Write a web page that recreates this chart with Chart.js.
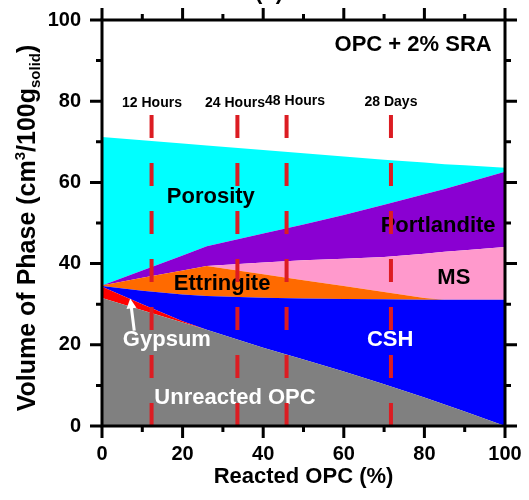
<!DOCTYPE html>
<html><head><meta charset="utf-8">
<script src="https://cdn.jsdelivr.net/npm/chart.js@4.4.0/dist/chart.umd.min.js"></script>
<style>html,body{margin:0;padding:0;background:#fff;overflow:hidden}#wrap{width:529px;height:500px;position:relative}</style>
</head><body><div id="wrap"><canvas id="c"></canvas></div>
<script>
// ---- data ----
const reactedOPC     = [0, 10, 20, 26, 40, 50, 60, 70, 80, 85, 90, 100];
const unreactedTop   = [31.5, 28.5, 25.5, 23.7, 19.3, 16.4, 13.4, 10.3, 7.0, 5.3, 3.6, 0];
const gypsumTop      = [34.3, 30.0, 25.8, 23.7, 19.3, 16.4, 13.4, 10.3, 7.0, 5.3, 3.6, 0];
const cshTop         = [34.5, 33.3, 32.4, 32.0, 31.6, 31.4, 31.3, 31.2, 31.1, 31.1, 31.1, 31.1];
const ettringiteTop  = [34.6, 36.5, 38.3, 39.4, 37.4, 35.9, 34.5, 33.0, 31.5, 31.1, 31.1, 31.1];
const msTop          = [34.6, 36.5, 38.3, 39.4, 40.3, 40.8, 41.2, 41.6, 42.4, 42.9, 43.3, 44.1];
const portlanditeTop = [34.6, 38.3, 42.0, 44.3, 47.4, 49.6, 52.0, 54.5, 57.1, 58.4, 59.8, 62.6];
const porosityTop    = [71.2, 70.4, 69.6, 69.1, 68.0, 67.2, 66.4, 65.6, 64.9, 64.5, 64.2, 63.6];
const phaseNames     = ['Unreacted OPC', 'Gypsum', 'CSH', 'Ettringite', 'MS', 'Portlandite', 'Porosity'];
const ageMarks       = [12.3, 33.6, 45.8, 71.7];
const ageLabels      = ['12 Hours', '24 Hours', '48 Hours', '28 Days'];
const ageMarkTop     = 76.6;
const xTickValues    = [0, 20, 40, 60, 80, 100];
const yTickValues    = [0, 20, 40, 60, 80, 100];

// ---- styles ----
const FONT = "'Liberation Sans', Arial, sans-serif";
const phaseTops   = [unreactedTop, gypsumTop, cshTop, ettringiteTop, msTop, portlanditeTop, porosityTop];
const phaseColors = ['#808080', '#FF0000', '#0000FF', '#FF6A00', '#FF99CC', '#8A00D2', '#00FFFF'];

const datasets = phaseTops.map((top, i) => ({
  label: phaseNames[i],
  data: reactedOPC.map((x, j) => ({x: x, y: top[j]})),
  fill: i === 0 ? 'origin' : '-1',
  backgroundColor: phaseColors[i],
  borderColor: 'rgba(0,0,0,0)',
  borderWidth: 0,
  pointRadius: 0,
  tension: 0,
  order: 1
}));
ageMarks.forEach((m, i) => datasets.push({
  label: ageLabels[i],
  data: [{x: m, y: ageMarkTop}, {x: m, y: 0}],
  fill: false,
  borderColor: '#DC1C22',
  borderWidth: 4,
  borderDash: [23, 25],
  borderCapStyle: 'butt',
  pointRadius: 0,
  order: -1
}));

// annotation placement (data coordinates)
const regionLabels = [
  {text: 'Porosity', x: 27, y: 56.4, color: '#000'},
  {text: 'Portlandite', x: 83.4, y: 49.3, color: '#000'},
  {text: 'MS', x: 87.3, y: 36.5, color: '#000'},
  {text: 'Ettringite', x: 29.8, y: 35.0, color: '#000'},
  {text: 'Gypsum', x: 16.1, y: 21.2, color: '#fff'},
  {text: 'CSH', x: 71.5, y: 21.2, color: '#fff'},
  {text: 'Unreacted OPC', x: 33, y: 6.9, color: '#fff'},
  {text: 'OPC + 2% SRA', x: 77.2, y: 93.8, color: '#000'}
];
const ageLabelPos = [{x: 12.4, y: 79.6}, {x: 33, y: 79.6}, {x: 47.9, y: 80.0}, {x: 71.7, y: 79.8}];
const gypsumArrow = {from: {x: 8.0, y: 23.5}, to: {x: 7.0, y: 31.4}};

let labelsDrawn = false;
const labelPlugin = {
  id: 'labels',
  beforeDraw() { labelsDrawn = false; },
  beforeDatasetDraw(chart, args) {
    if (labelsDrawn || args.index < phaseTops.length) return;
    labelsDrawn = true;
    const ctx = chart.ctx, xs = chart.scales.x, ys = chart.scales.y;
    ctx.save();
    ctx.textAlign = 'center';
    ctx.textBaseline = 'middle';
    ctx.font = 'bold 22px ' + FONT;
    regionLabels.forEach(l => {
      ctx.fillStyle = l.color;
      ctx.fillText(l.text, xs.getPixelForValue(l.x), ys.getPixelForValue(l.y));
    });
    ctx.font = 'bold 14px ' + FONT;
    ctx.fillStyle = '#000';
    ageLabels.forEach((t, i) => {
      ctx.fillText(t, xs.getPixelForValue(ageLabelPos[i].x), ys.getPixelForValue(ageLabelPos[i].y));
    });
    const x1 = xs.getPixelForValue(gypsumArrow.from.x), y1 = ys.getPixelForValue(gypsumArrow.from.y);
    const x2 = xs.getPixelForValue(gypsumArrow.to.x), y2 = ys.getPixelForValue(gypsumArrow.to.y);
    const ang = Math.atan2(y2 - y1, x2 - x1);
    const hl = 10, hw = 5;
    ctx.strokeStyle = '#fff'; ctx.fillStyle = '#fff'; ctx.lineWidth = 3;
    ctx.beginPath(); ctx.moveTo(x1, y1);
    ctx.lineTo(x2 - Math.cos(ang) * hl * 0.8, y2 - Math.sin(ang) * hl * 0.8); ctx.stroke();
    ctx.beginPath(); ctx.moveTo(x2, y2);
    ctx.lineTo(x2 - Math.cos(ang) * hl - Math.sin(ang) * hw, y2 - Math.sin(ang) * hl + Math.cos(ang) * hw);
    ctx.lineTo(x2 - Math.cos(ang) * hl + Math.sin(ang) * hw, y2 - Math.sin(ang) * hl - Math.cos(ang) * hw);
    ctx.closePath(); ctx.fill();
    ctx.restore();
  }
};

const framePlugin = {
  id: 'frame',
  afterDraw(chart) {
    const ctx = chart.ctx, a = chart.chartArea, xs = chart.scales.x, ys = chart.scales.y;
    ctx.save();
    ctx.strokeStyle = '#000';
    ctx.lineWidth = 3;
    ctx.lineCap = 'butt';
    ctx.strokeRect(a.left, a.top, a.right - a.left, a.bottom - a.top);
    for (let v = 0; v <= 100; v += 10) {
      const len = v % 20 === 0 ? 12 : 6;
      const px = xs.getPixelForValue(v), py = ys.getPixelForValue(v);
      ctx.beginPath();
      ctx.moveTo(px, a.bottom); ctx.lineTo(px, a.bottom + len);
      ctx.moveTo(px, a.top); ctx.lineTo(px, a.top - len);
      ctx.moveTo(a.left, py); ctx.lineTo(a.left - len, py);
      ctx.moveTo(a.right, py); ctx.lineTo(a.right + len, py);
      ctx.stroke();
    }
    ctx.fillStyle = '#000';
    ctx.font = 'bold 22px ' + FONT;
    ctx.textAlign = 'center';
    ctx.textBaseline = 'middle';
    ctx.fillText('Reacted OPC (%)', (a.left + a.right) / 2, 477);
    ctx.textBaseline = 'alphabetic';
    ctx.fillText('(b)', 269, -1);
    const parts = [
      {t: 'Volume of Phase (cm', s: 25, dy: 0},
      {t: '3', s: 15, dy: -10},
      {t: '/100g', s: 25, dy: 0},
      {t: 'solid', s: 15, dy: 5},
      {t: ')', s: 25, dy: 0}
    ];
    let total = 0;
    parts.forEach(p => { ctx.font = 'bold ' + p.s + 'px ' + FONT; p.w = ctx.measureText(p.t).width; total += p.w; });
    ctx.translate(35, 228);
    ctx.rotate(-Math.PI / 2);
    ctx.textAlign = 'left';
    let cx = -total / 2;
    parts.forEach(p => {
      ctx.font = 'bold ' + p.s + 'px ' + FONT;
      ctx.fillText(p.t, cx, p.dy);
      cx += p.w;
    });
    ctx.restore();
  }
};

function zeroPad(s) { s.paddingTop = 0; s.paddingBottom = 0; s.paddingLeft = 0; s.paddingRight = 0; }

new Chart(document.getElementById('c'), {
  type: 'line',
  data: {datasets: datasets},
  options: {
    responsive: true,
    maintainAspectRatio: false,
    animation: false,
    layout: {padding: {left: 0, right: 24, top: 20, bottom: 0}},
    plugins: {legend: {display: false}, tooltip: {enabled: false}, filler: {propagate: false}},
    scales: {
      x: {
        type: 'linear', min: 0, max: 100,
        afterBuildTicks: s => { s.ticks = xTickValues.map(v => ({value: v})); },
        ticks: {font: {family: FONT, size: 20, weight: 'bold'}, color: '#000', padding: 16, maxRotation: 0, autoSkip: false},
        grid: {display: false, drawTicks: false},
        border: {display: false},
        afterFit: s => { s.height = 74; zeroPad(s); }
      },
      y: {
        type: 'linear', min: 0, max: 100,
        afterBuildTicks: s => { s.ticks = yTickValues.map(v => ({value: v})); },
        ticks: {font: {family: FONT, size: 20, weight: 'bold'}, color: '#000', padding: 21, autoSkip: false},
        grid: {display: false, drawTicks: false},
        border: {display: false},
        afterFit: s => { s.width = 102; zeroPad(s); }
      }
    }
  },
  plugins: [labelPlugin, framePlugin]
});
</script>
</body></html>
